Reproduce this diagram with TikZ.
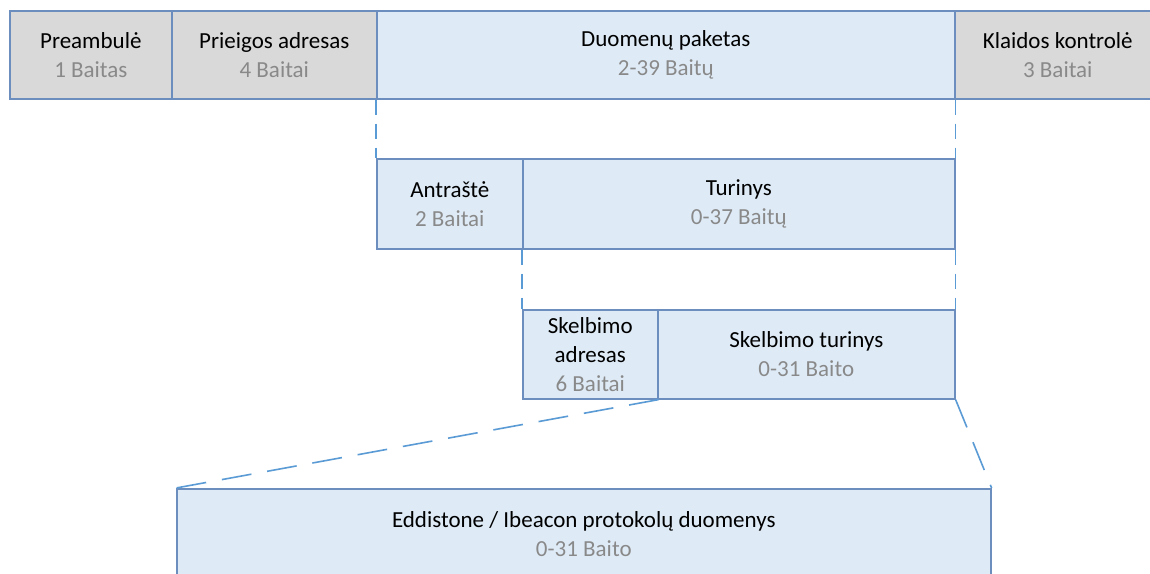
\documentclass[tikz,border=0pt]{standalone}
\usepackage{fontspec}
\setmainfont{Carlito}
\usetikzlibrary{positioning}

\definecolor{cellgray}{RGB}{217,217,217}
\definecolor{cellblue}{RGB}{222,235,247}
\definecolor{cellborder}{RGB}{108,142,191}
\definecolor{linkblue}{RGB}{91,155,213}
\definecolor{subtext}{RGB}{137,137,137}

\tikzset{
  cell/.style={draw=cellborder, line width=1.6pt, rectangle, inner sep=0pt,
    anchor=north west, align=center, text=black,
    font=\fontsize{23}{29}\selectfont},
  graycell/.style={cell, fill=cellgray},
  bluecell/.style={cell, fill=cellblue},
  link/.style={draw=linkblue, line width=1.6pt, dash pattern=on 15pt off 9pt},
  longlink/.style={draw=linkblue, line width=1.6pt, dash pattern=on 30pt off 16pt},
}
\newcommand{\sz}[1]{\textcolor{subtext}{#1}}

\begin{document}
\begin{tikzpicture}[x=1pt, y=-1pt]
  \useasboundingbox (0,0) rectangle (1150,573);
  \clip (0,0) rectangle (1150,573);
  \fill[white] (0,0) rectangle (1150,573);

  % frame of the link-layer packet
  \node[graycell, minimum width=162pt, minimum height=88pt] (pre) at (9,10)
    {Preambulė\\\sz{1 Baitas}};
  \node[graycell, minimum width=205pt, minimum height=88pt] (acc) at (171,10)
    {Prieigos adresas\\\sz{4 Baitai}};
  \node[bluecell, minimum width=578pt, minimum height=88pt] (pdu) at (376,10)
    {Duomenų paketas\\\sz{2-39 Baitų}};
  % the error-check field runs on past the right edge
  \node[graycell, minimum width=240pt, minimum height=88pt] (crc) at (954,10)
    {Klaidos kontrolė\hspace*{34pt}\\\sz{3 Baitai}\hspace*{34pt}};

  % PDU: header and payload
  \node[bluecell, minimum width=146pt, minimum height=90pt] (hdr) at (376,158)
    {Antraštė\\\sz{2 Baitai}};
  \node[bluecell, minimum width=432pt, minimum height=90pt] (pay) at (522,158)
    {Turinys\\\sz{0-37 Baitų}};

  % payload: advertiser address and advertising data
  \node[bluecell, minimum width=135pt, minimum height=89pt] (adv) at (522,309)
    {Skelbimo\\adresas\\\sz{6 Baitai}};
  \node[bluecell, minimum width=297pt, minimum height=89pt] (data) at (657,309)
    {Skelbimo turinys\\\sz{0-31 Baito}};

  % beacon protocol data
  \node[bluecell, minimum width=814pt, minimum height=90pt] (beacon) at (176,488)
    {Eddistone / Ibeacon protokolų duomenys\\\sz{0-31 Baito}};

  % expansion guides
  \draw[link] (pdu.south west) -- (hdr.north west);
  \draw[link] (pdu.south east) -- (pay.north east);
  \draw[link] (pay.south west) -- (adv.north west);
  \draw[link] (pay.south east) -- (data.north east);
  \draw[longlink] (adv.south east) -- (beacon.north west);
  \draw[longlink] (data.south east) -- (beacon.north east);
\end{tikzpicture}
\end{document}
